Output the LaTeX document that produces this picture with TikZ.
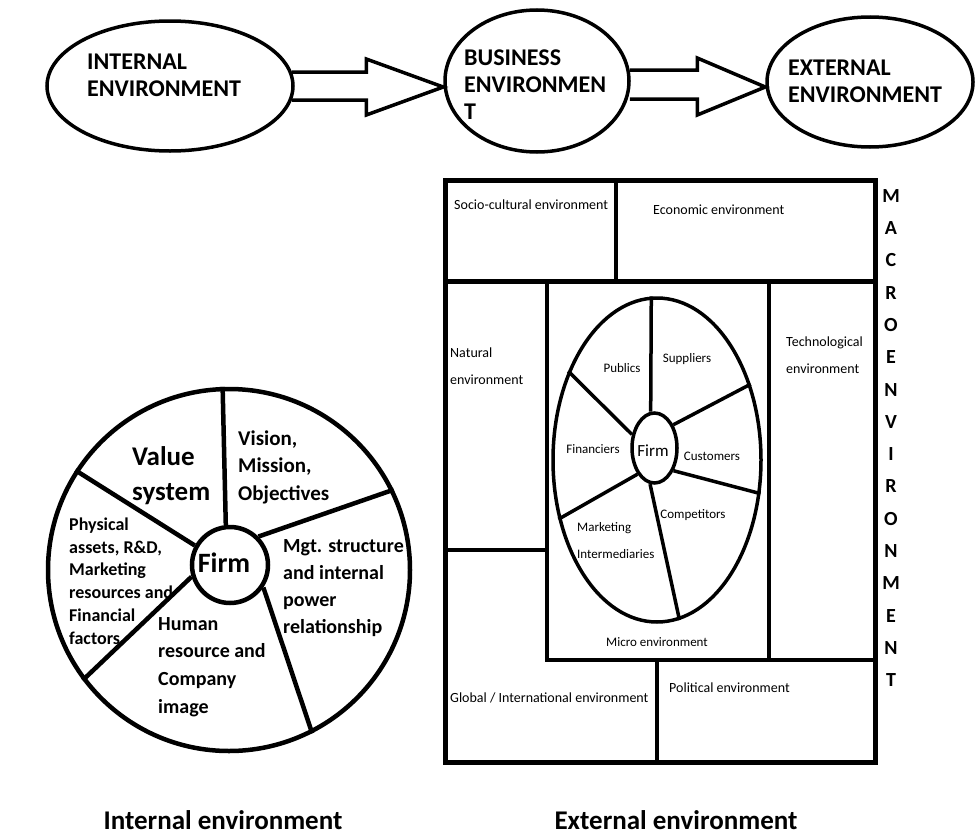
\documentclass[tikz,border=0pt]{standalone}
\usepackage{fontspec}
\setmainfont{Carlito}
\usetikzlibrary{shapes.geometric,calc}
\begin{document}
\begin{tikzpicture}[x=1pt,y=-1pt,
  ell/.style={draw,ellipse,line width=3.5pt,inner sep=0pt},
  barrow/.style={draw,line width=3.5pt,line join=miter},
  spoke/.style={line width=4.5pt},
  mspoke/.style={line width=3.5pt},
  boxline/.style={line width=4pt},
  txt/.style={inner sep=0pt,align=left,anchor=west},
  big/.style={font=\fontsize{24}{27}\selectfont\bfseries},
  small/.style={font=\fontsize{14}{27}\selectfont},
  micro/.style={font=\fontsize{13}{27}\selectfont},
]
\useasboundingbox (0,0) rectangle (977,835);
\fill[white] (0,0) rectangle (977,835);

% ---------- top row ----------
\node[ell,minimum width=246pt,minimum height=130pt] (int) at (170,86) {};
\node[ell,minimum width=184pt,minimum height=142pt] (bus) at (537,81) {};
\node[ell,minimum width=206pt,minimum height=130pt] (ext) at (870,82) {};
\node[txt,big] (tint) at (87,75) {INTERNAL\\ENVIRONMENT};
\node[txt,big] (tbus) at (464,85) {BUSINESS\\ENVIRONMEN\\T};
\node[txt,big] (text) at (788,81) {EXTERNAL\\ENVIRONMENT};

\draw[barrow] ($(int.east)+(-3,-14)$) -- ($(bus.west)+(-77,-9)$) -- ($(bus.west)+(-77,-22)$)
  -- ($(bus.west)+(0,6)$) -- ($(bus.west)+(-77,34)$) -- ($(bus.west)+(-77,19)$) -- ($(int.east)+(-3,14)$);
\draw[barrow] ($(bus.east)+(-1,-11)$) -- ($(ext.west)+(-68,-12)$) -- ($(ext.west)+(-68,-24)$)
  -- ($(ext.west)+(0,5)$) -- ($(ext.west)+(-68,33)$) -- ($(ext.west)+(-68,17)$) -- ($(bus.east)+(-1,18)$);

% ---------- internal environment pie ----------
\node[draw,circle,line width=4.5pt,minimum size=362pt,inner sep=0pt] (pie) at (229,570) {};
\node[draw,circle,line width=4.5pt,minimum size=76pt,inner sep=0pt] (pfirm) at (230,565) {};
\draw[spoke] (pfirm.96) -- (pie.92);
\draw[spoke] (pfirm.45) -- (pie.26);
\draw[spoke] (pfirm.-34) -- (pie.-63);
\draw[spoke] (pfirm.197) -- (pie.217.5);
\draw[spoke] (pfirm.151) -- (pie.147.5);

\node[font=\fontsize{28}{30}\selectfont\bfseries,inner sep=0pt] (lfirm) at (224,563) {Firm};
\node[txt,font=\fontsize{27}{35}\selectfont\bfseries] (lval) at (132,476) {Value\\system};
\node[txt,font=\fontsize{21}{27.5}\selectfont\bfseries] (lvis) at (238,467) {Vision,\\Mission,\\Objectives};
\node[txt,font=\fontsize{20}{27}\selectfont\bfseries] (lmgt) at (283,588) {Mgt. structure\\and internal\\power\\relationship};
\node[txt,font=\fontsize{18}{22.8}\selectfont\bfseries] (lphy) at (69,581) {Physical\\assets, R\&D,\\Marketing\\resources and\\Financial\\factors};
\node[txt,font=\fontsize{20}{27.7}\selectfont\bfseries] (lhum) at (158,667) {Human\\resource and\\Company\\image};

% ---------- external environment box ----------
\draw[boxline,line width=5pt] (445,180) rectangle (875,762);
\draw[boxline,line width=5pt] (445,281) -- (875,281);
\draw[boxline] (616,180) -- (616,281);
\node[draw,rectangle,line width=4pt,outer sep=0pt,minimum width=222pt,minimum height=379pt,inner sep=0pt] (mbox) at (658,470.5) {};
\draw[boxline] (445,550) -- (mbox.west |- 0,550);
\draw[boxline] (mbox.south east) -- (875,660);
\draw[boxline] (657,660) -- (657,762);

\node[draw,ellipse,line width=3.5pt,minimum width=208pt,minimum height=324pt,inner sep=0pt] (mell) at (657,460) {};
\node[draw,ellipse,line width=3.5pt,minimum width=45pt,minimum height=70pt,inner sep=0pt] (mfirm) at (654.5,448) {};
\draw[mspoke] (mfirm.96) -- (mell.92);
\draw[mspoke] (mfirm.51) -- (mell.39.5);
\draw[mspoke] (mfirm.149) -- (mell.135);
\draw[mspoke] (mfirm.-50.6) -- (mell.-18);
\draw[mspoke] (mfirm.237) -- (mell.211.4);
\draw[mspoke] (mfirm.-97) -- (mell.-82.6);

\node[micro,inner sep=0pt] (mpub) at (622,368) {Publics};
\node[micro,inner sep=0pt] (msup) at (687,359) {Suppliers};
\node[micro,inner sep=0pt] (mfin) at (593,449) {Financiers};
\node[font=\fontsize{17}{20}\selectfont,inner sep=0pt] (mfl) at (653,451) {Firm};
\node[micro,inner sep=0pt] (mcus) at (712,456) {Customers};
\node[micro,inner sep=0pt] (mcom) at (693,515) {Competitors};
\node[txt,micro] (mmkt) at (577,541) {Marketing\\Intermediaries};
\node[micro,inner sep=0pt] (mmic) at (657,642) {Micro environment};

\node[txt,small] (esoc) at (454,205) {Socio-cultural environment};
\node[txt,small] (eeco) at (653,210) {Economic environment};
\node[txt,small] (enat) at (450,366) {Natural\\environment};
\node[txt,small] (etec) at (786,355) {Technological\\environment};
\node[txt,small] (eglo) at (450,698) {Global / International environment};
\node[txt,small] (epol) at (669,688) {Political environment};

\node[inner sep=0pt,align=center,font=\fontsize{20}{32.3}\selectfont\bfseries] (macro) at (891,438)
  {M\\A\\C\\R\\O\\E\\N\\V\\I\\R\\O\\N\\M\\E\\N\\T};

% ---------- captions ----------
\node[font=\fontsize{27}{30}\selectfont\bfseries,inner sep=0pt] (capi) at (223,820) {Internal environment};
\node[font=\fontsize{27}{30}\selectfont\bfseries,inner sep=0pt] (cape) at (676,820) {External environment};
\end{tikzpicture}
\end{document}
